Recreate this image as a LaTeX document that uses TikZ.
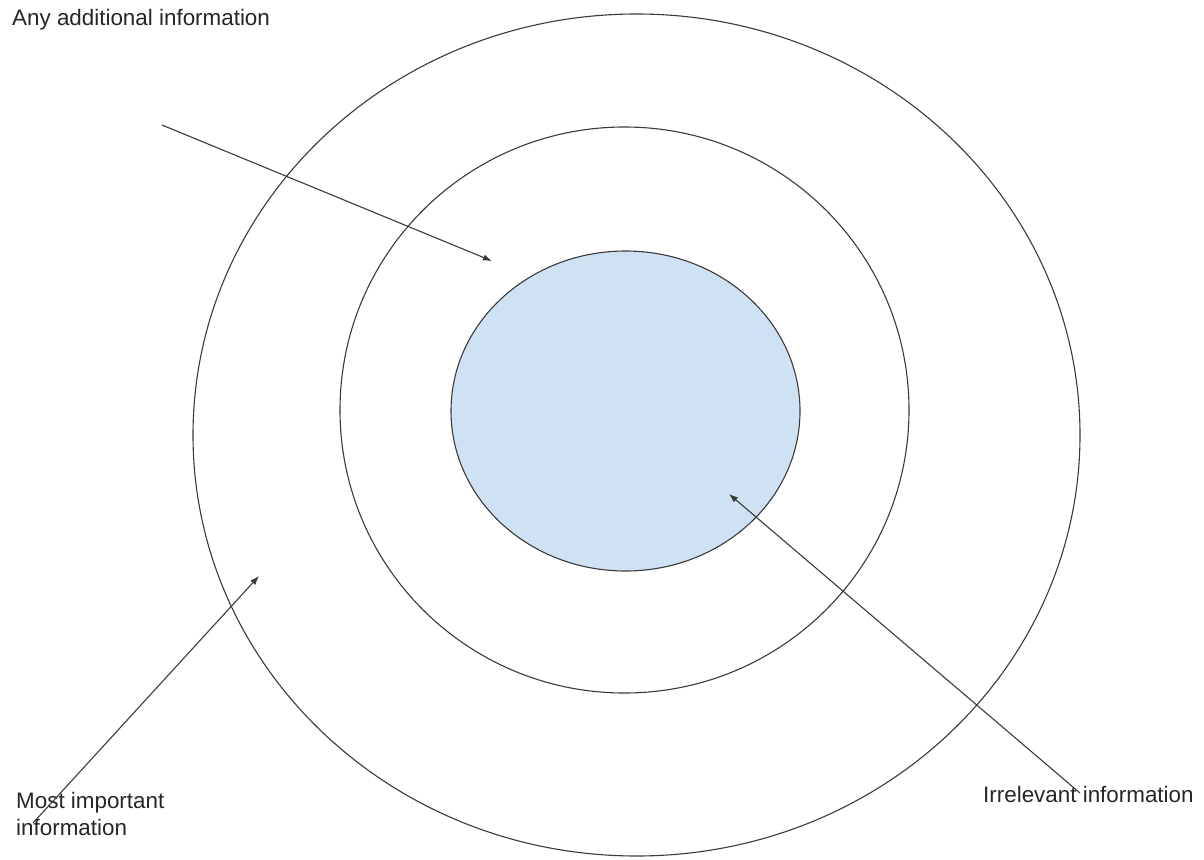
\documentclass[tikz,border=0pt]{standalone}
\usepackage{fontspec}
\setmainfont{Liberation Sans}
\usetikzlibrary{arrows.meta}
\definecolor{ringline}{HTML}{3A3A3A}
\definecolor{corefill}{HTML}{CFE2F3}
\tikzset{
  ring/.style={draw=ringline, line width=1.1pt},
  pointer/.style={draw=ringline, line width=1.1pt, -{Latex[length=9pt,width=6.5pt]}},
  lbl/.style={inner sep=0pt, font=\fontsize{22.4}{27}\selectfont, text=black!85},
}
\begin{document}
\begin{tikzpicture}[x=1pt,y=-1pt]
\useasboundingbox (0,0) rectangle (1204,859);
% rings
\draw[ring] (636.5,435) ellipse [x radius=443.5, y radius=421];
\draw[ring] (624.5,410) ellipse [x radius=284.5, y radius=283];
\draw[ring, fill=corefill] (625.5,411) ellipse [x radius=174.5, y radius=160];
% labels
\node[lbl, anchor=base west] (additional) at (12,26) {Any additional information};
\node[lbl, anchor=north west, align=left] (important) at (16,792) {Most important\\information};
\node[lbl, anchor=base west] (irrelevant) at (983,802) {Irrelevant information};
% connector ends
\coordinate (a1) at (162,125);
\coordinate (t1) at (492,261);
\coordinate (a2) at (1080,793);
\coordinate (t2) at (729,494);
\coordinate (a3) at (33,823);
\coordinate (t3) at (259,576);
\draw[pointer] (a1) -- (t1);
\draw[pointer] (a2) -- (t2);
\draw[pointer] (a3) -- (t3);
\end{tikzpicture}
\end{document}
